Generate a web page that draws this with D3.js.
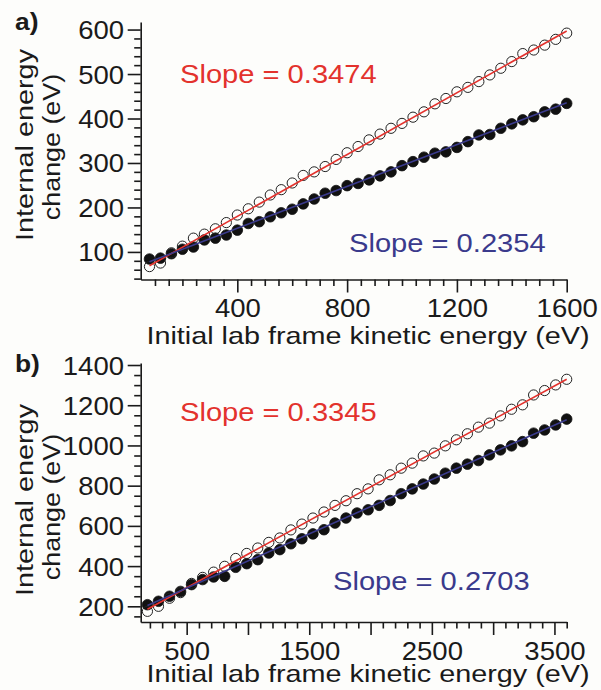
<!DOCTYPE html>
<html><head><meta charset="utf-8">
<script src="https://cdn.jsdelivr.net/npm/d3@7"></script>
<style>
html,body{margin:0;padding:0;background:#fdfdfb;}
svg{display:block;}
</style></head>
<body>
<svg id="chart" width="601" height="690"></svg>
<script>
// ---- data ----
const xA = [80,120,160,200,240,280,320,360,400,440,480,520,560,600,640,680,720,760,800,840,880,920,960,1000,1040,1080,1120,1160,1200,1240,1280,1320,1360,1400,1440,1480,1520,1560,1600];
const openA = [67,75,98,113,131,140,152,166,183,197,212,228,240,255,272,280,292,308,323,337,352,365,378,389,403,415,433,445,460,470,483,498,513,528,546,554,565,578,592];
const filledA = [84,86,96,106,111,127,131,138,149,164,168,179,188,196,208,219,232,238,249,254,262,271,280,294,303,313,322,325,335,348,363,364,378,388,397,404,415,421,434];
const xB = [180,270,360,450,540,630,720,810,900,990,1080,1170,1260,1350,1440,1530,1620,1710,1800,1890,1980,2070,2160,2250,2340,2430,2520,2610,2700,2790,2880,2970,3060,3150,3240,3330,3420,3510,3600];
const openB = [175,200,240,268,314,344,370,399,438,463,490,518,540,580,609,639,669,702,725,760,784,829,854,887,912,948,962,998,1028,1058,1091,1111,1147,1180,1202,1251,1273,1301,1329];
const filledB = [208,225,250,274,308,333,346,349,394,412,432,465,482,511,536,560,581,614,639,664,680,702,726,760,784,808,833,862,887,907,925,953,978,998,1019,1061,1077,1102,1131];
const slopesA = [0.3474, 0.2354];
const interceptsA = [41, 59];
const slopesB = [0.3345, 0.2703];
const interceptsB = [125, 155];
const xTicksA = [400,800,1200,1600];
const yTicksA = [100,200,300,400,500,600];
const xTicksB = [500,1500,2500,3500];
const xMajorB = [500,1000,1500,2000,2500,3000,3500];
const yTicksB = [200,400,600,800,1000,1200,1400];
const panelLetters = ["a)","b)"];
const slopeTextsA = ["Slope = 0.3474","Slope = 0.2354"];
const slopeTextsB = ["Slope = 0.3345","Slope = 0.2703"];
const xTitle = "Initial lab frame kinetic energy (eV)";
const yTitle1 = "Internal energy";
const yTitle2 = "change (eV)";

// ---- style ----
const RED = "#e3322d", BLUE = "#3a3a8c", INK = "#1a1a1a";
const FONT = "'Liberation Sans', Arial, Helvetica, sans-serif";
const svg = d3.select("#chart");

function txt(parent, x, y, s, o) {
  return parent.append("text")
    .attr("transform", `translate(${x},${y}) rotate(${o.rot||0}) scale(${o.sx||1},1)`)
    .attr("text-anchor", o.anchor || "start")
    .style("font-family", FONT)
    .style("font-size", o.size + "px")
    .style("font-weight", o.weight || "normal")
    .attr("fill", o.fill || INK)
    .text(s);
}

const panels = [
  { xs: xA, open: openA, filled: filledA, slopes: slopesA, inter: interceptsA,
    xDom: [48,1600], yDom: [38,617], left: 140.7, right: 566.7, bottom: 279.5, top: 22,
    xLab: xTicksA, xMajor: xTicksA, xMinorStep: 50, xMinorStart: 100,
    yLab: yTicksA, yMinorStep: 20, yMinorStart: 40,
    letter: panelLetters[0], letterY: 30,
    slopeTexts: slopeTextsA, slopePos: [[180,83],[349,252]],
    titleY: 344, yTitleC: [145,147] },
  { xs: xB, open: openB, filled: filledB, slopes: slopesB, inter: interceptsB,
    xDom: [125,3600], yDom: [122,1410], left: 140.7, right: 566.7, bottom: 622, top: 363,
    xLab: xTicksB, xMajor: xMajorB, xMinorStep: 100, xMinorStart: 200,
    yLab: yTicksB, yMinorStep: 50, yMinorStart: 150,
    letter: panelLetters[1], letterY: 372,
    slopeTexts: slopeTextsB, slopePos: [[180,421],[333,590]],
    titleY: 682, yTitleC: [500,507] }
];

panels.forEach(p => {
  const x = d3.scaleLinear().domain(p.xDom).range([p.left, p.right]);
  const y = d3.scaleLinear().domain(p.yDom).range([p.bottom, p.top]);
  const g = svg.append("g");

  // minor x ticks
  const xMinor = d3.range(p.xMinorStart, p.xDom[1] + 1, p.xMinorStep).filter(v => p.xMajor.indexOf(v) < 0);
  const gxm = g.append("g").attr("transform", `translate(0,${p.bottom})`)
    .call(d3.axisBottom(x).tickValues(xMinor).tickSize(6.5).tickSizeOuter(0).tickFormat(""));
  gxm.select(".domain").remove();
  const gx = g.append("g").attr("transform", `translate(0,${p.bottom})`)
    .call(d3.axisBottom(x).tickValues(p.xMajor).tickSize(13).tickSizeOuter(0)
      .tickFormat(d => p.xLab.indexOf(d) >= 0 ? d : ""));
  gx.selectAll("text").attr("y", 38).attr("dy", 0).attr("transform", "scale(1.1,1)")
    .style("font-family", FONT).style("font-size", "25px").attr("fill", INK);

  // y ticks
  const yMinor = d3.range(p.yMinorStart, p.yDom[1], p.yMinorStep).filter(v => p.yLab.indexOf(v) < 0);
  const gym = g.append("g").attr("transform", `translate(${p.left},0)`)
    .call(d3.axisLeft(y).tickValues(yMinor).tickSize(6.5).tickSizeOuter(0).tickFormat(""));
  gym.select(".domain").remove();
  const gy = g.append("g").attr("transform", `translate(${p.left},0)`)
    .call(d3.axisLeft(y).tickValues(p.yLab).tickSize(13).tickSizeOuter(0).tickFormat(d3.format("d")));
  gy.selectAll("text").attr("x", -15.2).attr("dy", "0.36em").attr("transform", "scale(1.1,1)")
    .style("font-family", FONT).style("font-size", "25px").attr("fill", INK);

  g.selectAll(".domain, .tick line").attr("stroke", INK).attr("stroke-width", 1.6);

  // markers
  const pts = p.xs.map((v, i) => ({ x: v, o: p.open[i], f: p.filled[i] }));
  g.append("g").selectAll("circle.f").data(pts).join("circle")
    .attr("cx", d => x(d.x)).attr("cy", d => y(d.f)).attr("r", 5.3)
    .attr("fill", "#111").attr("stroke", "#111").attr("stroke-width", 0.8);
  g.append("g").selectAll("circle.o").data(pts).join("circle")
    .attr("cx", d => x(d.x)).attr("cy", d => y(d.o)).attr("r", 5.1)
    .attr("fill", "none").attr("stroke", "#222").attr("stroke-width", 1);

  // fit lines
  const line = d3.line().x(d => x(d[0])).y(d => y(d[1]));
  const x0 = p.xs[0], x1 = p.xs[p.xs.length - 1];
  [RED, BLUE].forEach((c, k) => {
    const seg = [[x0, p.slopes[k] * x0 + p.inter[k]], [x1, p.slopes[k] * x1 + p.inter[k]]];
    g.append("path").attr("d", line(seg)).attr("stroke", c).attr("stroke-width", 1.6).attr("fill", "none");
  });

  // texts
  txt(g, 15, p.letterY, p.letter, { size: 24, weight: "bold", sx: 1.1 });
  [RED, BLUE].forEach((c, k) => {
    txt(g, p.slopePos[k][0], p.slopePos[k][1], p.slopeTexts[k], { size: 25, sx: 1.165, fill: c });
  });
  txt(g, 368, p.titleY, xTitle, { size: 24, sx: 1.2, anchor: "middle" });
  txt(g, 33, p.yTitleC[0], yTitle1, { size: 24, sx: 1.2, anchor: "middle", rot: -90 });
  txt(g, 60, p.yTitleC[1], yTitle2, { size: 24, sx: 1.12, anchor: "middle", rot: -90 });
});
</script>
</body></html>
